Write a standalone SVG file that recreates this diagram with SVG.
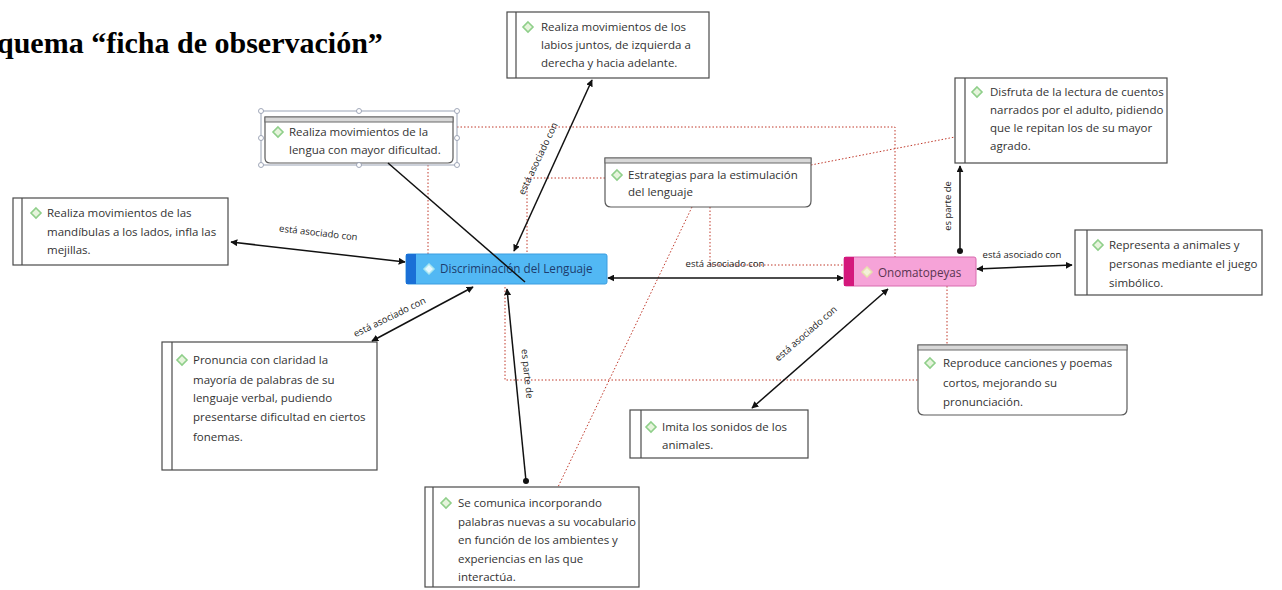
<svg xmlns="http://www.w3.org/2000/svg" width="1282" height="590" viewBox="0 0 1282 590">
<defs>
<style>
.title{font-family:"Liberation Serif",serif;font-weight:bold;font-size:30px;fill:#000}
.t{font-family:"Open Sans","Noto Sans",sans-serif;font-size:11.5px;fill:#333}
.lbl{font-family:"Open Sans","Noto Sans",sans-serif;font-size:9.5px;fill:#222}
.box{fill:#fff;stroke:#4a4a4a;stroke-width:1.2}
.inner{stroke:#4a4a4a;stroke-width:1.2}
.hdr{fill:#fff;stroke:#5a5a5a;stroke-width:1.2}
.bar{fill:#d8d8d8;stroke:#6a6a6a;stroke-width:1}
.ico{fill:#e6f4dc;stroke:#8fcf8a;stroke-width:1.6}
.dot{fill:none;stroke:#c0392b;stroke-width:1;stroke-dasharray:1.5 2}
.ln{fill:none;stroke:#111;stroke-width:1.5}
.sel{fill:none;stroke:#9aa3b5;stroke-width:1}
.hnd{fill:#fff;stroke:#8a93a8;stroke-width:0.8}
.ct{font-family:"Open Sans","Noto Sans",sans-serif;font-size:11.7px}
</style>
<marker id="ah" viewBox="0 0 10 10" refX="9" refY="5" markerWidth="7" markerHeight="7" orient="auto-start-reverse" markerUnits="userSpaceOnUse"><path d="M0,0 L10,5 L0,10 Z" fill="#111"/></marker>
<marker id="dt" viewBox="0 0 10 10" refX="5" refY="5" markerWidth="6" markerHeight="6" markerUnits="userSpaceOnUse"><circle cx="5" cy="5" r="5" fill="#111"/></marker>
<path id="dia" d="M0,-5 L5,0 L0,5 L-5,0 Z"/>
</defs>
<rect width="1282" height="590" fill="#fff"/>
<text class="title" x="-3" y="53">quema “ficha de observación”</text>

<g id="dotted">
<polyline class="dot" points="457,127 895,127 895,257"/>
<line class="dot" x1="428" y1="165" x2="428" y2="254"/>
<polyline class="dot" points="605,178 527,178 527,254"/>
<polyline class="dot" points="710,207 710,265 843,265"/>
<line class="dot" x1="692" y1="207" x2="558" y2="487"/>
<line class="dot" x1="811" y1="165" x2="955" y2="137"/>
<line class="dot" x1="947" y1="286" x2="947" y2="345"/>
<polyline class="dot" points="505,287 505,380 918,380"/>
</g>

<g id="n-labios">
<rect class="box" x="507" y="12" width="202" height="66"/>
<line class="inner" x1="516" y1="12" x2="516" y2="78"/>
<use href="#dia" class="ico" x="528" y="27"/>
<text class="t" x="541" y="31">Realiza movimientos de los</text>
<text class="t" x="541" y="49">labios juntos, de izquierda a</text>
<text class="t" x="541" y="67">derecha y hacia adelante.</text>
</g>

<g id="n-lengua">
<rect class="sel" x="261" y="111" width="196" height="54"/>
<path class="hdr" d="M265,117 H453 V158 Q453,163 448,163 H270 Q265,163 265,158 Z"/>
<rect class="bar" x="265" y="117" width="188" height="5"/>
<circle class="hnd" cx="261" cy="111" r="2.5"/><circle class="hnd" cx="359" cy="111" r="2.5"/><circle class="hnd" cx="457" cy="111" r="2.5"/>
<circle class="hnd" cx="261" cy="138" r="2.5"/><circle class="hnd" cx="457" cy="138" r="2.5"/>
<circle class="hnd" cx="261" cy="165" r="2.5"/><circle class="hnd" cx="359" cy="165" r="2.5"/><circle class="hnd" cx="457" cy="165" r="2.5"/>
<use href="#dia" class="ico" x="278" y="132"/>
<text class="t" x="289" y="136">Realiza movimientos de la</text>
<text class="t" x="289" y="154">lengua con mayor dificultad.</text>
</g>

<g id="n-estrategias">
<path class="hdr" d="M605,158 H811 V201 Q811,207 805,207 H611 Q605,207 605,201 Z"/>
<rect class="bar" x="605" y="158" width="206" height="5"/>
<use href="#dia" class="ico" x="617" y="175"/>
<text class="t" x="628" y="179">Estrategias para la estimulación</text>
<text class="t" x="628" y="196">del lenguaje</text>
</g>

<g id="n-disfruta">
<rect class="box" x="955" y="78" width="212" height="85"/>
<line class="inner" x1="965" y1="78" x2="965" y2="163"/>
<use href="#dia" class="ico" x="977" y="92"/>
<text class="t" x="990" y="96">Disfruta de la lectura de cuentos</text>
<text class="t" x="990" y="114">narrados por el adulto, pidiendo</text>
<text class="t" x="990" y="132">que le repitan los de su mayor</text>
<text class="t" x="990" y="150">agrado.</text>
</g>

<g id="n-mandibulas">
<rect class="box" x="13" y="198" width="215" height="67"/>
<line class="inner" x1="22" y1="198" x2="22" y2="265"/>
<use href="#dia" class="ico" x="36" y="213"/>
<text class="t" x="47" y="217">Realiza movimientos de las</text>
<text class="t" x="47" y="236">mandíbulas a los lados, infla las</text>
<text class="t" x="47" y="254">mejillas.</text>
</g>

<g id="n-discriminacion">
<rect x="406" y="254" width="201" height="30" rx="2" fill="#52b8f4" stroke="#3a9de0" stroke-width="1"/>
<rect x="406" y="254" width="10" height="30" fill="#1a6fd6"/>
<use href="#dia" x="429" y="269" fill="#e6f8ff" stroke="#a8e6f0" stroke-width="1.5"/>
<text class="ct" x="440" y="273" fill="#1d3d6e">Discriminación del Lenguaje</text>
</g>

<g id="n-onomatopeyas">
<rect x="844" y="257" width="132" height="29" rx="2" fill="#f6a3d8" stroke="#d86aae" stroke-width="1"/>
<rect x="844" y="257" width="10" height="29" fill="#d4187c"/>
<use href="#dia" x="867" y="272" fill="#f4f0d8" stroke="#e8e0b0" stroke-width="1.5"/>
<text class="ct" x="878" y="277" fill="#5a3550">Onomatopeyas</text>
</g>

<g id="n-representa">
<rect class="box" x="1075" y="230" width="187" height="65"/>
<line class="inner" x1="1087" y1="230" x2="1087" y2="295"/>
<use href="#dia" class="ico" x="1098" y="245"/>
<text class="t" x="1109" y="249">Representa a animales y</text>
<text class="t" x="1109" y="268">personas mediante el juego</text>
<text class="t" x="1109" y="287">simbólico.</text>
</g>

<g id="n-pronuncia">
<rect class="box" x="162" y="342" width="215" height="128"/>
<line class="inner" x1="172" y1="342" x2="172" y2="470"/>
<use href="#dia" class="ico" x="182" y="360"/>
<text class="t" x="193" y="364">Pronuncia con claridad la</text>
<text class="t" x="193" y="384">mayoría de palabras de su</text>
<text class="t" x="193" y="402">lenguaje verbal, pudiendo</text>
<text class="t" x="193" y="421">presentarse dificultad en ciertos</text>
<text class="t" x="193" y="441">fonemas.</text>
</g>

<g id="n-imita">
<rect class="box" x="630" y="410" width="178" height="48"/>
<line class="inner" x1="641" y1="410" x2="641" y2="458"/>
<use href="#dia" class="ico" x="651" y="427"/>
<text class="t" x="662" y="431">Imita los sonidos de los</text>
<text class="t" x="662" y="449">animales.</text>
</g>

<g id="n-reproduce">
<path class="hdr" d="M918,345 H1127 V409 Q1127,415 1121,415 H924 Q918,415 918,409 Z"/>
<rect class="bar" x="918" y="345" width="209" height="5"/>
<use href="#dia" class="ico" x="930" y="363"/>
<text class="t" x="943" y="367">Reproduce canciones y poemas</text>
<text class="t" x="943" y="387">cortos, mejorando su</text>
<text class="t" x="943" y="406">pronunciación.</text>
</g>

<g id="n-comunica">
<rect class="box" x="425" y="487" width="214" height="100"/>
<line class="inner" x1="433" y1="487" x2="433" y2="587"/>
<use href="#dia" class="ico" x="446" y="503"/>
<text class="t" x="458" y="507">Se comunica incorporando</text>
<text class="t" x="458" y="526">palabras nuevas a su vocabulario</text>
<text class="t" x="458" y="544">en función de los ambientes y</text>
<text class="t" x="458" y="563">experiencias en las que</text>
<text class="t" x="458" y="581">interactúa.</text>
</g>

<g id="connectors">
<line class="ln" x1="231" y1="242" x2="405" y2="262" marker-start="url(#ah)" marker-end="url(#ah)"/>
<text class="lbl" transform="translate(318,236) rotate(6.5)" text-anchor="middle">está asociado con</text>
<line class="ln" x1="514" y1="251" x2="592" y2="80" marker-start="url(#ah)" marker-end="url(#ah)"/>
<text class="lbl" transform="translate(541,160) rotate(-64.5)" text-anchor="middle">está asociado con</text>
<line class="ln" x1="388" y1="163" x2="525" y2="282" stroke-width="1.3" stroke="#1a2a44"/>
<line class="ln" x1="608" y1="278" x2="843" y2="278" marker-start="url(#ah)" marker-end="url(#ah)"/>
<text class="lbl" x="725" y="267" text-anchor="middle">está asociado con</text>
<line class="ln" x1="977" y1="269" x2="1072" y2="265" marker-start="url(#ah)" marker-end="url(#ah)"/>
<text class="lbl" x="1022" y="258" text-anchor="middle">está asociado con</text>
<line class="ln" x1="473" y1="287" x2="372" y2="341" marker-start="url(#ah)" marker-end="url(#ah)"/>
<text class="lbl" transform="translate(391,320) rotate(-26)" text-anchor="middle">está asociado con</text>
<line class="ln" x1="507" y1="289" x2="526" y2="481" marker-start="url(#ah)" marker-end="url(#dt)"/>
<text class="lbl" transform="translate(524,374) rotate(84)" text-anchor="middle">es parte de</text>
<line class="ln" x1="960" y1="251" x2="960" y2="166" marker-start="url(#dt)" marker-end="url(#ah)"/>
<text class="lbl" transform="translate(951,206) rotate(-90)" text-anchor="middle">es parte de</text>
<line class="ln" x1="888" y1="289" x2="752" y2="408" marker-start="url(#ah)" marker-end="url(#ah)"/>
<text class="lbl" transform="translate(808,336) rotate(-41)" text-anchor="middle">está asociado con</text>
</g>
</svg>
